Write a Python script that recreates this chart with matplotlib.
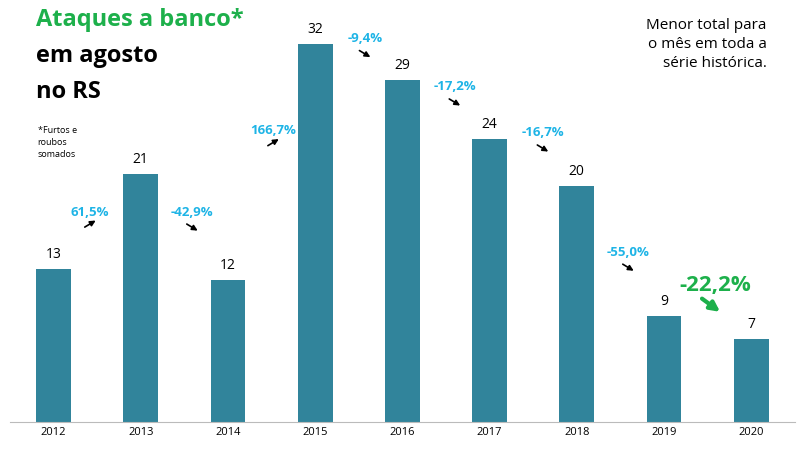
import matplotlib
matplotlib.use("Agg")
import matplotlib.pyplot as plt

years = ["2012","2013","2014","2015","2016","2017","2018","2019","2020"]
values = [13,21,12,32,29,24,20,9,7]
pct_labels = ["61,5%","-42,9%","166,7%","-9,4%","-17,2%","-16,7%","-55,0%","-22,2%"]
pct_x = [0.42,1.59,2.52,3.57,4.60,5.61,6.59,7.59]
pct_y = [17.8,17.8,24.7,32.5,28.4,24.5,14.4,11.6]

plt.rcParams["font.family"] = "Open Sans"
fig = plt.figure(figsize=(8,4.5), dpi=100)
ax = fig.add_axes([0.0125,0.062,0.981,0.918])
bars = ax.bar(range(len(values)), values, width=0.4, color="#31849B")
for i,v in enumerate(values):
    ax.text(i, v+0.6, str(v), ha="center", va="bottom", fontsize=10)
ax.set_xlim(-0.5,8.5); ax.set_ylim(0,35)
ax.set_xticks(range(len(years))); ax.set_xticklabels(years, fontsize=8)
ax.set_yticks([])
for s in ["top","right","left"]: ax.spines[s].set_visible(False)
ax.spines["bottom"].set_color("#bbbbbb")
ax.tick_params(axis="x", length=0)
for i,(lab,x,y) in enumerate(zip(pct_labels,pct_x,pct_y)):
    up = not lab.startswith("-")
    last = i == len(pct_labels)-1
    col = "#1DB04B" if last else "#1EB4E6"
    ax.text(x, y, lab, ha="center", va="center", fontsize=16 if last else 9.5,
            color=col, fontweight="bold")
    if last:
        s, e = (x-0.18, y-1.0), (x+0.08, y-2.4)
    elif up:
        s, e = (x-0.09, y-1.4), (x+0.09, y-0.6)
    else:
        s, e = (x-0.09, y-0.9), (x+0.09, y-1.7)
    ax.annotate("", xy=e, xytext=s,
                arrowprops=dict(arrowstyle="-|>", color=col if last else "black",
                                lw=3 if last else 1.2, mutation_scale=14 if last else 8))
fig.text(0.045,0.955,"Ataques a banco*", fontsize=17, fontweight="bold", color="#1DB04B", va="center")
fig.text(0.045,0.875,"em agosto", fontsize=17, fontweight="bold", color="black", va="center")
fig.text(0.045,0.795,"no RS", fontsize=17, fontweight="bold", color="black", va="center")
fig.text(0.047,0.72,"*Furtos e\nroubos\nsomados", fontsize=6.5, va="top", linespacing=1.4)
fig.text(0.958,0.96,"Menor total para\no mês em toda a\nsérie histórica.", fontsize=11, ha="right", va="top", linespacing=1.35)
fig.savefig("out.png", dpi=100)
